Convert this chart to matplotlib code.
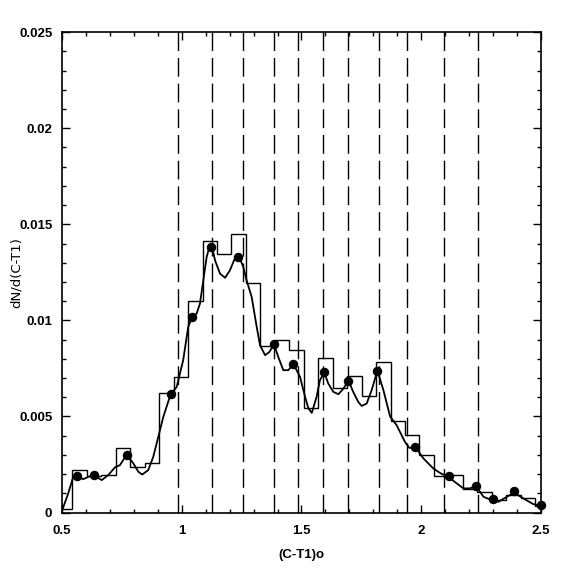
import numpy as np
import matplotlib
matplotlib.use("Agg")
import matplotlib.pyplot as plt

##################################################################################################

# Data

# histogram bin edges and heights
bin_edges = [0.483, 0.543, 0.603, 0.664, 0.724, 0.785, 0.845, 0.905, 0.966, 1.026,
             1.087, 1.147, 1.207, 1.268, 1.328, 1.389, 1.449, 1.509, 1.570, 1.630,
             1.690, 1.751, 1.811, 1.872, 1.932, 1.992, 2.053, 2.113, 2.174, 2.234,
             2.295, 2.355, 2.415, 2.476, 2.536]
bin_heights = [0.00020, 0.00224, 0.00192, 0.00196, 0.00336, 0.00237, 0.00258, 0.00622,
               0.00705, 0.01103, 0.01414, 0.01345, 0.01450, 0.01194, 0.00868, 0.00896,
               0.00846, 0.00544, 0.00804, 0.00648, 0.00712, 0.00605, 0.00786, 0.00478,
               0.00403, 0.00301, 0.00192, 0.00197, 0.00125, 0.00105, 0.00065, 0.00093,
               0.00078, 0.00035]

# smoothed curve (traced)
curve_x = [0.501, 0.526, 0.547, 0.561, 0.589, 0.610, 0.634, 0.666, 0.693, 0.721,
           0.742, 0.770, 0.798, 0.819, 0.835, 0.860, 0.881, 0.902, 0.923, 0.954,
           0.979, 1.006, 1.027, 1.044, 1.062, 1.076, 1.090, 1.104, 1.114, 1.122,
           1.130, 1.139, 1.160, 1.181, 1.201, 1.220, 1.233, 1.245, 1.257, 1.271,
           1.292, 1.313, 1.327, 1.348, 1.366, 1.385, 1.403, 1.424, 1.445, 1.466,
           1.487, 1.494, 1.515, 1.529, 1.543, 1.563, 1.577, 1.595, 1.612, 1.633,
           1.654, 1.675, 1.696, 1.716, 1.737, 1.751, 1.772, 1.793, 1.817, 1.842,
           1.870, 1.897, 1.932, 1.950, 1.978, 2.009, 2.050, 2.080, 2.113, 2.148,
           2.176, 2.203, 2.229, 2.260, 2.294, 2.322, 2.357, 2.389, 2.426, 2.468,
           2.503]
curve_y = [0.00013, 0.00100, 0.00186, 0.00189, 0.00174, 0.00186, 0.00194, 0.00169, 0.00195, 0.00235,
           0.00247, 0.00301, 0.00256, 0.00212, 0.00198, 0.00221, 0.00290, 0.00394, 0.00498, 0.00617,
           0.00654, 0.00793, 0.00966, 0.01020, 0.01035, 0.01087, 0.01208, 0.01330, 0.01375, 0.01384,
           0.01365, 0.01312, 0.01243, 0.01222, 0.01260, 0.01318, 0.01332, 0.01315, 0.01278, 0.01208,
           0.01122, 0.00966, 0.00870, 0.00819, 0.00836, 0.00876, 0.00810, 0.00741, 0.00741, 0.00773,
           0.00723, 0.00706, 0.00602, 0.00542, 0.00519, 0.00602, 0.00689, 0.00729, 0.00671, 0.00628,
           0.00616, 0.00645, 0.00687, 0.00628, 0.00576, 0.00555, 0.00567, 0.00637, 0.00739, 0.00637,
           0.00500, 0.00455, 0.00368, 0.00337, 0.00337, 0.00282, 0.00230, 0.00205, 0.00186, 0.00152,
           0.00126, 0.00126, 0.00138, 0.00082, 0.00065, 0.00056, 0.00082, 0.00103, 0.00074, 0.00044,
           0.00034]

# filled points
pts_x = [0.561, 0.634, 0.770, 0.954, 1.044, 1.122, 1.233, 1.385, 1.466,
         1.595, 1.696, 1.817, 1.974, 2.117, 2.229, 2.301, 2.389, 2.500]
pts_y = [0.00189, 0.00194, 0.00301, 0.00617, 0.01020, 0.01384, 0.01332, 0.00876, 0.00773,
         0.00729, 0.00687, 0.00739, 0.00341, 0.00189, 0.00140, 0.00071, 0.00111, 0.00038]

# dashed vertical lines
vlines_x = [0.986, 1.127, 1.256, 1.386, 1.487, 1.591, 1.696, 1.825, 1.942, 2.097, 2.238]

x_ticks = [0.5, 1, 1.5, 2, 2.5]
x_tick_labels = ["0.5", "1", "1.5", "2", "2.5"]
y_ticks = [0, 0.005, 0.01, 0.015, 0.02, 0.025]
y_tick_labels = ["0", "0.005", "0.01", "0.015", "0.02", "0.025"]

##################################################################################################

# Plot

plt.rcParams['lines.scale_dashes'] = False

fig = plt.figure(figsize=(5.74, 5.74), dpi=100)
ax = fig.add_axes([0.108, 0.107, 0.8345, 0.837])

ax.stairs(bin_heights, bin_edges, baseline=None, color='k', lw=1.0)
ax.plot(curve_x, curve_y, color='k', lw=1.3, solid_joinstyle='round')
ax.plot(pts_x, pts_y, 'o', color='k', ms=5.8, clip_on=False, zorder=5)

for xv in vlines_x:
    ax.axvline(xv, color='k', lw=1.0, dashes=(13.5, 5.0))

ax.set_xlim(0.5, 2.5)
ax.set_ylim(0, 0.025)

tick_font = dict(family='Liberation Sans', weight='bold', size=9.5)
ax.set_xticks(x_ticks)
ax.set_xticklabels(x_tick_labels, **tick_font)
ax.set_yticks(y_ticks)
ax.set_yticklabels(y_tick_labels, **tick_font)
ax.set_xticks(np.arange(0.5, 2.51, 0.1), minor=True)
ax.set_yticks(np.arange(0, 0.0251, 0.001), minor=True)

ax.tick_params(which='both', direction='in', top=True, right=True, color='k', width=1.0)
ax.tick_params(which='major', length=6, pad=7)
ax.tick_params(which='minor', length=3)
ax.tick_params(axis='x', which='major', pad=9)

for s in ax.spines.values():
    s.set_linewidth(1.2)

ax.set_xlabel("(C-T1)o", family='Liberation Sans', weight='bold', size=9.5)
ax.xaxis.set_label_coords(0.5, -0.075)
ax.set_ylabel("dN/d(C-T1)", family='DejaVu Sans', size=9.5)
ax.yaxis.set_label_coords(-0.081, 0.5)

fig.savefig("out.png", dpi=100)
